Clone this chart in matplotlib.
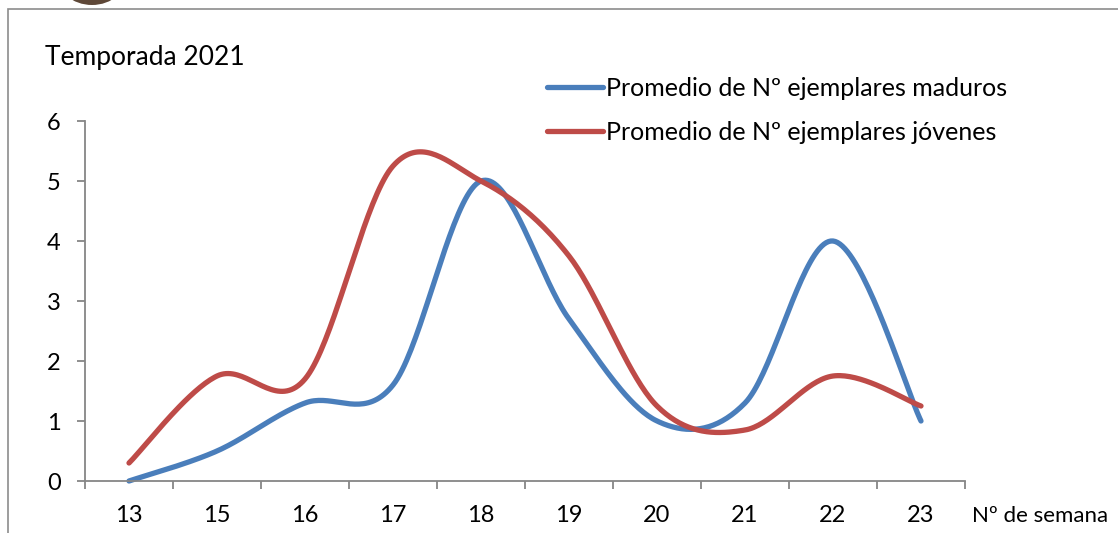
import numpy as np
import matplotlib
matplotlib.use("Agg")
import matplotlib.pyplot as plt
from matplotlib.patches import Rectangle, Ellipse

semanas = ["13", "15", "16", "17", "18", "19", "20", "21", "22", "23"]
maduros = [0.0, 0.5, 1.3, 1.6, 5.0, 2.7, 1.0, 1.3, 4.0, 1.0]
jovenes = [0.3, 1.75, 1.7, 5.25, 5.0, 3.75, 1.25, 0.85, 1.75, 1.25]

nombre_maduros = "Promedio de Nº ejemplares maduros"
nombre_jovenes = "Promedio de Nº ejemplares jóvenes"

azul = "#4A7EBB"
rojo = "#BE4B48"
gris = "#868686"

plt.rcParams["font.family"] = ["Lato", "DejaVu Sans"]


def suavizar(y, n=40):
    # curva tipo excel: bezier con puntos de control catmull-rom
    y = np.asarray(y, dtype=float)
    x = np.arange(len(y), dtype=float)
    px = np.concatenate([[x[0]], x, [x[-1]]])
    py = np.concatenate([[y[0]], y, [y[-1]]])
    xs, ys = [], []
    t = np.linspace(0, 1, n)
    for i in range(len(y) - 1):
        p0x, p1x, p2x, p3x = px[i], px[i + 1], px[i + 2], px[i + 3]
        p0y, p1y, p2y, p3y = py[i], py[i + 1], py[i + 2], py[i + 3]
        c1x = p1x + (p2x - p0x) / 6
        c1y = p1y + (p2y - p0y) / 6
        c2x = p2x - (p3x - p1x) / 6
        c2y = p2y - (p3y - p1y) / 6
        bx = (1 - t) ** 3 * p1x + 3 * (1 - t) ** 2 * t * c1x + 3 * (1 - t) * t ** 2 * c2x + t ** 3 * p2x
        by = (1 - t) ** 3 * p1y + 3 * (1 - t) ** 2 * t * c1y + 3 * (1 - t) * t ** 2 * c2y + t ** 3 * p2y
        xs.append(bx)
        ys.append(by)
    return np.concatenate(xs), np.concatenate(ys)


fig = plt.figure(figsize=(11.18, 5.33), dpi=100)

# marco del grafico y resto del logo arriba
fig.patches.append(Rectangle((8 / 1118, -0.1), 1.2, (533 - 9) / 533 + 0.1,
                             transform=fig.transFigure, fill=False,
                             edgecolor="#8c8c8c", linewidth=1.2))
fig.patches.append(Ellipse((92 / 1118, 1 + 26 / 533), 72 / 1118, 62 / 533,
                           transform=fig.transFigure, facecolor="#5e4838",
                           edgecolor="none"))

ax = fig.add_axes([85 / 1118, 52 / 533, 880 / 1118, 360 / 533])

xm, ym = suavizar(maduros)
xj, yj = suavizar(jovenes)
l1, = ax.plot(xm, ym, color=azul, linewidth=3.8, solid_capstyle="round", label=nombre_maduros)
l2, = ax.plot(xj, yj, color=rojo, linewidth=3.8, solid_capstyle="round", label=nombre_jovenes)

ax.set_xlim(-0.5, len(semanas) - 0.5)
ax.set_ylim(0, 6)
ax.set_xticks(range(len(semanas)))
ax.set_xticklabels(semanas)
ax.set_xticks(np.arange(-0.5, len(semanas), 1), minor=True)
ax.set_yticks(range(7))
ax.tick_params(axis="x", which="major", length=0, pad=17, labelsize=17)
ax.tick_params(axis="x", which="minor", length=5.5, width=1.3, color=gris, direction="out")
ax.tick_params(axis="y", length=5.5, width=1.3, color=gris, pad=12, labelsize=17)
for s in ["top", "right"]:
    ax.spines[s].set_visible(False)
for s in ["left", "bottom"]:
    ax.spines[s].set_color(gris)
    ax.spines[s].set_linewidth(1.3)
l1.set_clip_on(False)
l2.set_clip_on(False)

fig.text(45 / 1118, 1 - 57 / 533, "Temporada 2021", fontsize=19, va="center", ha="left")
fig.text(972 / 1118, 1 - 516 / 533, "Nº de semana", fontsize=16, va="center", ha="left")

fig.legend(handles=[l1, l2], loc="center left",
           bbox_to_anchor=(547 / 1118, 1 - 110.5 / 533), frameon=False,
           fontsize=18, handlelength=2.25, handletextpad=0.1,
           labelspacing=0.85, borderpad=0, borderaxespad=0)

fig.savefig("out.png", dpi=100)
